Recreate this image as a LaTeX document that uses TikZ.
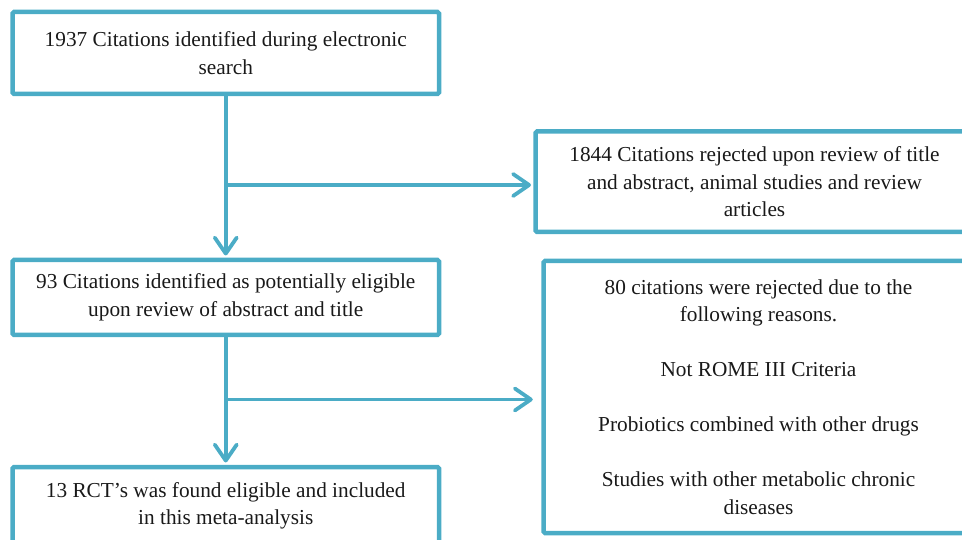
\documentclass[tikz,border=0pt]{standalone}
\usepackage{fontspec}
\setmainfont{Liberation Serif}
\usetikzlibrary{arrows.meta}
\usetikzlibrary{positioning}
\definecolor{boxblue}{HTML}{4BACC6}

\begin{document}
\begin{tikzpicture}
    [
    x=1pt, y=1pt,
    stage/.style={rectangle,draw=boxblue,line width=4.5pt,rounded corners=1.5pt,
      align=center,inner sep=0pt,text=black!90,
      font=\fontsize{21.3pt}{27.5pt}\selectfont},
    flow/.style={draw=boxblue,line width=3.8pt,
      -{Straight Barb[length=16pt,width=22pt,round]}},
    ]
    \useasboundingbox (0,0) rectangle (962,539);
    \clip (0,0) rectangle (962,539);

    \node (search) at (225.75,486) [stage, minimum width=426.5pt, minimum height=82pt]
      {1937 Citations identified during electronic\\search};
    \node (rejected1) at (754.5,357.25) [stage, minimum width=438pt, minimum height=100.5pt]
      {1844 Citations rejected upon review of title\\and abstract, animal studies and review\\articles};
    \node (eligible) at (225.75,241.5) [stage, minimum width=426.5pt, minimum height=75pt]
      {93 Citations identified as potentially eligible\\upon review of abstract and title};
    \node (rejected2) at (758.5,142) [stage, minimum width=430pt, minimum height=272pt]
      {80 citations were rejected due to the\\following reasons.\\[27.5pt]
       Not ROME III Criteria\\[27.5pt]
       Probiotics combined with other drugs\\[27.5pt]
       Studies with other metabolic chronic\\diseases};
    \node (included) at (225.75,33) [stage, minimum width=426.5pt, minimum height=78pt]
      {13 RCT’s was found eligible and included\\in this meta-analysis};

    % main flow
    \draw [flow, shorten >=2.25pt] (search) to (eligible);
    \draw [flow, shorten >=2.25pt] (eligible) to (included);

    % exclusions
    \coordinate (b1) at (225.75,354);
    \coordinate (b2) at (225.75,139.5);
    \draw [flow, shorten >=2.25pt] (b1) to (b1 -| rejected1.west);
    \draw [flow, shorten >=8.5pt] (b2) to (b2 -| rejected2.west);
  \end{tikzpicture}
\end{document}
